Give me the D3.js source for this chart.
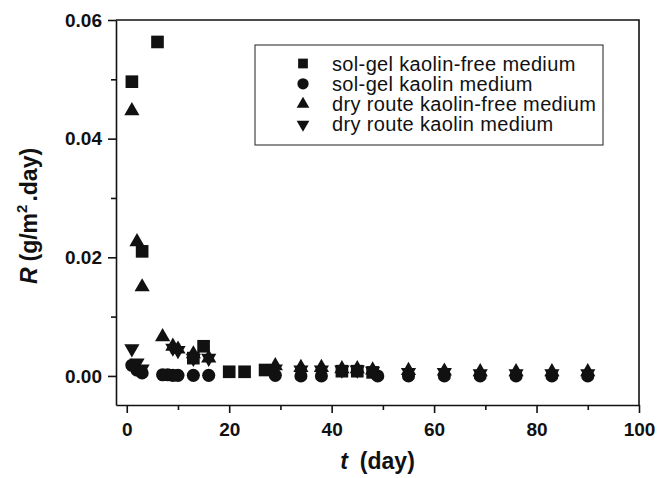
<!DOCTYPE html>
<html>
<head>
<meta charset="utf-8">
<script src="https://cdn.jsdelivr.net/npm/d3@7"></script>
<style>
  body { margin: 0; background: #fff; }
  svg { display: block; font-family: "Liberation Sans", Arial, sans-serif; }
</style>
</head>
<body>
<svg id="chart" width="669" height="478"></svg>
<script>
// values
const seriesNames = [
  'sol-gel kaolin-free medium',
  'sol-gel kaolin medium',
  'dry route kaolin-free medium',
  'dry route kaolin medium'
];

const tSolGelFree = [1, 3, 6, 13, 15, 20, 23, 27, 42, 45, 48];
const rSolGelFree = [0.0496, 0.021, 0.0563, 0.003, 0.005, 0.0007, 0.0007, 0.0010, 0.0008, 0.0008, 0.0006];

const tSolGelKaolin = [1, 2, 3, 7, 8, 9, 10, 13, 16, 29, 34, 38, 49, 55, 62, 69, 76, 83, 90];
const rSolGelKaolin = [0.0018, 0.0010, 0.0005, 0.0002, 0.0002, 0.0001, 0.0001, 0.0001, 0.0001, 0.0001, 0.0000, 0.0000, 0.0000, 0.0000, 0.0000, 0.0000, 0.0000, 0.0000, 0.0000];

const tDryFree = [1, 2, 3, 7, 9, 10, 13, 16, 29, 34, 38, 42, 45, 48, 55, 62, 69, 76, 83, 90];
const rDryFree = [0.0447, 0.0226, 0.015, 0.0066, 0.0050, 0.0045, 0.0037, 0.0030, 0.0017, 0.0014, 0.0014, 0.0012, 0.0012, 0.0010, 0.0009, 0.0008, 0.0007, 0.0007, 0.0007, 0.0007];

const tDryKaolin = [1, 2, 3, 9, 10, 13, 16, 29, 34, 38, 42, 45, 48, 55, 62, 69, 76, 83, 90];
const rDryKaolin = [0.0046, 0.0022, 0.0012, 0.0047, 0.0043, 0.0030, 0.0030, 0.0012, 0.0010, 0.0010, 0.0010, 0.0010, 0.0008, 0.0006, 0.0006, 0.0004, 0.0004, 0.0004, 0.0004];

const xTicks = [0, 20, 40, 60, 80, 100];
const yTicks = [0, 0.02, 0.04, 0.06];

const margin = { left: 116, top: 20, right: 30, bottom: 73 };
const width = 669, height = 478;
const svg = d3.select('#chart');
const ink = '#111';

const x = d3.scaleLinear().domain([-2.1, 100]).range([margin.left, width - margin.right]);
const y = d3.scaleLinear().domain([-0.0049, 0.06]).range([height - margin.bottom, margin.top]);

const shapes = [
  { type: d3.symbolSquare, size: 160, legendSize: 95, rot: 0 },
  { type: d3.symbolCircle, size: 135, legendSize: 100, rot: 0 },
  { type: d3.symbolTriangle, size: 100, legendSize: 70, rot: 0 },
  { type: d3.symbolTriangle, size: 100, legendSize: 70, rot: 180 }
];

const series = [
  [tSolGelFree, rSolGelFree],
  [tSolGelKaolin, rSolGelKaolin],
  [tDryFree, rDryFree],
  [tDryKaolin, rDryKaolin]
].map(([ts, rs], i) => ({ name: seriesNames[i], shape: shapes[i], pts: ts.map((t, j) => [t, rs[j]]) }));

// axes
svg.append('g')
  .attr('transform', `translate(0,${y.range()[0]})`)
  .call(d3.axisBottom(x).tickValues(xTicks).tickFormat(d3.format('d')).tickSize(8).tickSizeOuter(0).tickPadding(10));
svg.append('g')
  .attr('transform', `translate(0,${y.range()[0]})`)
  .call(d3.axisBottom(x).tickValues([10, 30, 50, 70, 90]).tickFormat('').tickSize(5).tickSizeOuter(0))
  .call(g => g.select('.domain').remove());

svg.append('g')
  .attr('transform', `translate(${x.range()[0]},0)`)
  .call(d3.axisLeft(y).tickValues(yTicks).tickFormat(d3.format('.2f')).tickSize(8).tickSizeOuter(0).tickPadding(6));
svg.append('g')
  .attr('transform', `translate(${x.range()[0]},0)`)
  .call(d3.axisLeft(y).tickValues([0.01, 0.03, 0.05]).tickFormat('').tickSize(5).tickSizeOuter(0))
  .call(g => g.select('.domain').remove());

svg.selectAll('.domain, .tick line').attr('stroke', ink).attr('stroke-width', 1.6);
svg.selectAll('.tick text')
  .attr('fill', ink)
  .style('font-size', '19px')
  .style('font-weight', 'bold')
  .style('font-family', '"Liberation Sans", Arial, sans-serif');

// top and right frame
svg.append('path')
  .attr('d', `M${x.range()[0]},${y.range()[1]}H${x.range()[1]}V${y.range()[0]}`)
  .attr('fill', 'none').attr('stroke', ink).attr('stroke-width', 1.6);

// markers
series.forEach(s => {
  const sym = d3.symbol().type(s.shape.type).size(s.shape.size);
  svg.append('g').selectAll('path')
    .data(s.pts)
    .join('path')
    .attr('d', sym)
    .attr('fill', ink)
    .attr('transform', d => `translate(${x(d[0])},${y(d[1])}) rotate(${s.shape.rot})`);
});

// legend
const legend = svg.append('g').attr('transform', 'translate(255,45)');
legend.append('rect')
  .attr('width', 348).attr('height', 100)
  .attr('fill', '#fff').attr('stroke', '#444').attr('stroke-width', 1.2);
series.forEach((s, i) => {
  const row = legend.append('g').attr('transform', `translate(0,${18.5 + i * 20.3})`);
  row.append('path')
    .attr('d', d3.symbol().type(s.shape.type).size(s.shape.legendSize))
    .attr('fill', ink)
    .attr('transform', `translate(48,0) rotate(${s.shape.rot})`);
  row.append('text')
    .attr('x', 77).attr('y', 7)
    .attr('fill', ink)
    .style('font-size', '20px')
    .style('letter-spacing', '0.35px')
    .text(s.name);
});

// axis titles
const xt = svg.append('text')
  .attr('x', (x.range()[0] + x.range()[1]) / 2)
  .attr('y', 469)
  .attr('text-anchor', 'middle')
  .attr('fill', ink)
  .style('font-size', '23px')
  .style('font-weight', 'bold');
xt.append('tspan').style('font-style', 'italic').text('t');
xt.append('tspan').attr('dx', 12).text('(day)');

const yt = svg.append('text')
  .attr('transform', `translate(37,216) rotate(-90)`)
  .attr('text-anchor', 'middle')
  .attr('fill', ink)
  .style('font-size', '23px')
  .style('font-weight', 'bold');
yt.append('tspan').style('font-style', 'italic').text('R');
yt.append('tspan').attr('dx', 6).text('(g/m');
yt.append('tspan').attr('dy', -10).style('font-size', '15px').text('2');
yt.append('tspan').attr('dy', 10).attr('dx', 3).text('.day)');
</script>
</body>
</html>
